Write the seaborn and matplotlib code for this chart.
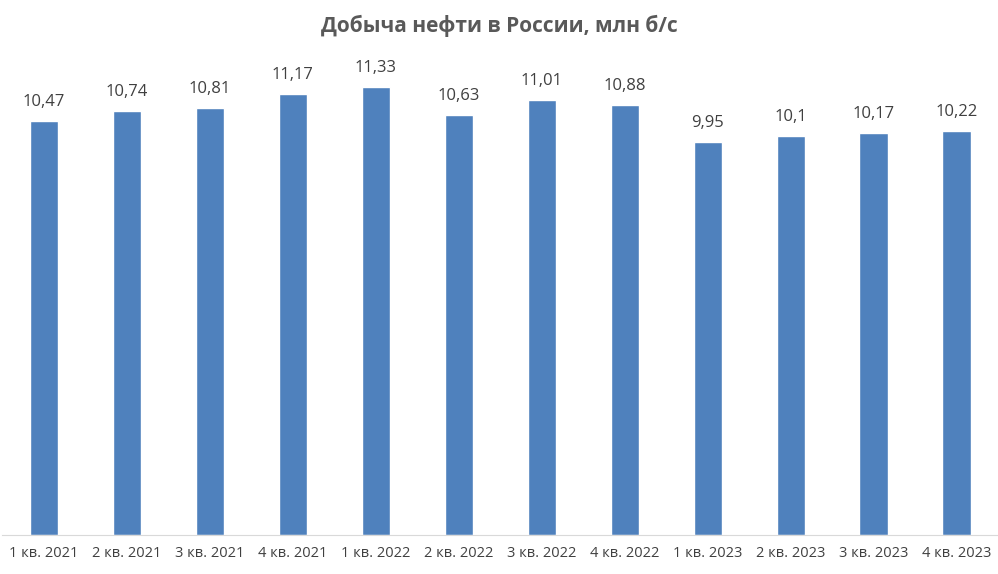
import matplotlib
matplotlib.use("Agg")
import matplotlib.pyplot as plt
import seaborn as sns
import pandas as pd

# Данные
quarters = ["1 кв. 2021", "2 кв. 2021", "3 кв. 2021", "4 кв. 2021",
            "1 кв. 2022", "2 кв. 2022", "3 кв. 2022", "4 кв. 2022",
            "1 кв. 2023", "2 кв. 2023", "3 кв. 2023", "4 кв. 2023"]
output = [10.47, 10.74, 10.81, 11.17, 11.33, 10.63, 11.01, 10.88,
          9.95, 10.10, 10.17, 10.22]
labels = ["10,47", "10,74", "10,81", "11,17", "11,33", "10,63", "11,01", "10,88",
          "9,95", "10,1", "10,17", "10,22"]

df = pd.DataFrame({"quarter": quarters, "value": output})

sns.set_style("white")
plt.rcParams["font.family"] = ["Open Sans", "DejaVu Sans"]

fig = plt.figure(figsize=(9.98, 5.74), dpi=100)
ax = fig.add_axes([0.0025, 0.068, 0.9975, 0.826])

sns.barplot(data=df, x="quarter", y="value", color="#4F81BD", width=0.34,
            saturation=1, ax=ax)

for i, (v, lab) in enumerate(zip(output, labels)):
    ax.text(i, v + 0.28, lab, ha="center", va="bottom", fontsize=12, color="#404040")

ax.set_ylim(0, 12)
ax.set_xlim(-0.5, 11.5)
ax.set_yticks([])
ax.set_xlabel("")
ax.set_ylabel("")
ax.tick_params(axis="x", length=0, labelsize=10.5, labelcolor="#404040", pad=8)
for s in ["left", "right", "top"]:
    ax.spines[s].set_visible(False)
ax.spines["bottom"].set_color("#D9D9D9")

fig.text(0.5, 0.955, "Добыча нефти в России, млн б/с", ha="center", va="center",
         fontsize=15, fontweight="bold", color="#595959")

fig.savefig("out.png", dpi=100)
plt.close(fig)
